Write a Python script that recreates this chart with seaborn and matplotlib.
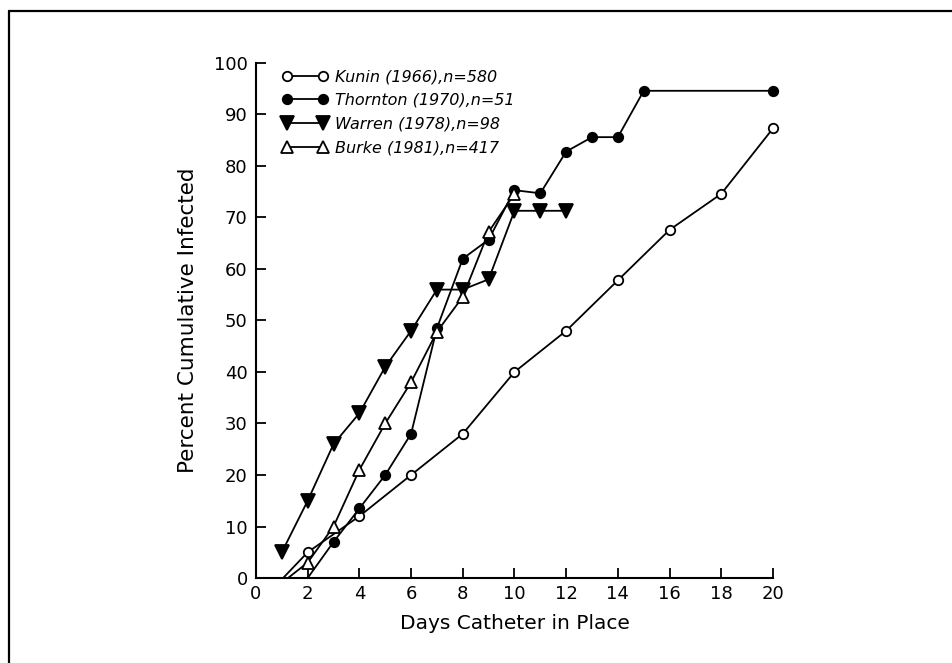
import matplotlib
matplotlib.use("Agg")
import matplotlib.pyplot as plt
import seaborn as sns
import pandas as pd
from matplotlib.lines import Line2D

# ---- data (first point of some series is where the line meets the x-axis, unmarked) ----
kunin_x = [1.05, 2, 4, 6, 8, 10, 12, 14, 16, 18, 20]
kunin_y = [0, 5, 12, 20, 28, 40, 48, 57.8, 67.6, 74.6, 87.3]

thornton_x = [2.0, 3, 4, 5, 6, 7, 8, 9, 10, 11, 12, 13, 14, 15, 20]
thornton_y = [0, 7, 13.5, 20, 28, 48.5, 62, 65.7, 75.3, 74.7, 82.8, 85.6, 85.6, 94.6, 94.6]

warren_x = [1, 2, 3, 4, 5, 6, 7, 8, 9, 10, 11, 12]
warren_y = [5, 15, 26, 32, 41, 48, 56, 56, 58, 71.3, 71.3, 71.3]

burke_x = [1.24, 2, 3, 4, 5, 6, 7, 8, 9, 10]
burke_y = [0, 3, 10, 21, 30, 38, 47.8, 54.6, 67.2, 74.6]

labels = ["Kunin (1966),n=580", "Thornton (1970),n=51",
          "Warren (1978),n=98", "Burke (1981),n=417"]
x_ticks = [0, 2, 4, 6, 8, 10, 12, 14, 16, 18, 20]
y_ticks = [0, 10, 20, 30, 40, 50, 60, 70, 80, 90, 100]

sns.set_style("ticks")
plt.rcParams["font.family"] = ["DejaVu Sans"]
plt.rcParams["text.color"] = "black"
plt.rcParams["axes.labelcolor"] = "black"

fig = plt.figure(figsize=(9.53, 6.63), dpi=100)
ax = fig.add_axes([0.2686, 0.1282, 0.5425, 0.7768])

series = [
    (kunin_x, kunin_y, dict(marker="o", mfc="white", mec="black", ms=6.8), True),
    (thornton_x, thornton_y, dict(marker="o", mfc="black", mec="black", ms=6.8), True),
    (warren_x, warren_y, dict(marker="v", mfc="black", mec="black", ms=9.5), False),
    (burke_x, burke_y, dict(marker="^", mfc="white", mec="black", ms=8.5), True),
]

handles = []
for (xs, ys, st, skip_first), lab in zip(series, labels):
    df = pd.DataFrame({"x": xs, "y": ys})
    me = slice(1, None) if skip_first else None
    sns.lineplot(data=df, x="x", y="y", ax=ax, sort=False, color="black",
                 lw=1.3, marker=st["marker"], markersize=st["ms"],
                 markerfacecolor=st["mfc"], markeredgecolor=st["mec"],
                 markeredgewidth=1.3, markevery=me, clip_on=False, zorder=3)
    handles.append(Line2D([0], [0], color="black", lw=1.3, marker=st["marker"],
                          markersize=st["ms"], markerfacecolor=st["mfc"],
                          markeredgecolor=st["mec"], markeredgewidth=1.3))

ax.set_xlim(0, 20)
ax.set_ylim(0, 100)
ax.set_xticks(x_ticks)
ax.set_yticks(y_ticks)
ax.set_xticklabels([str(t) for t in x_ticks])
ax.set_yticklabels([str(t) for t in y_ticks])
ax.tick_params(direction="in", length=7, width=1.3, labelsize=13, colors="black")
ax.tick_params(axis="x", pad=5)
ax.tick_params(axis="y", pad=6)
for s in ["top", "right"]:
    ax.spines[s].set_visible(False)
for s in ["left", "bottom"]:
    ax.spines[s].set_linewidth(1.5)
    ax.spines[s].set_color("black")

ax.set_xlabel("Days Catheter in Place", fontsize=14.5, labelpad=8, color="black")
ax.set_ylabel("Percent Cumulative Infected", fontsize=15.5, labelpad=11, color="black")

leg = ax.legend(handles, labels, loc="upper left", bbox_to_anchor=(0.05, 0.988),
                frameon=False, numpoints=2, handlelength=2.9, handletextpad=0.4,
                labelspacing=0.55, borderpad=0, borderaxespad=0,
                prop={"style": "italic", "size": 11.5}, labelcolor="black")

# outer frame (top and left edges visible)
fig.add_artist(Line2D([0.0094, 0.0094], [0, 0.983], transform=fig.transFigure,
                      color="black", lw=1.6))
fig.add_artist(Line2D([0.0094, 1.01], [0.983, 0.983], transform=fig.transFigure,
                      color="black", lw=1.6))

fig.savefig("out.png", dpi=100, facecolor="white")
